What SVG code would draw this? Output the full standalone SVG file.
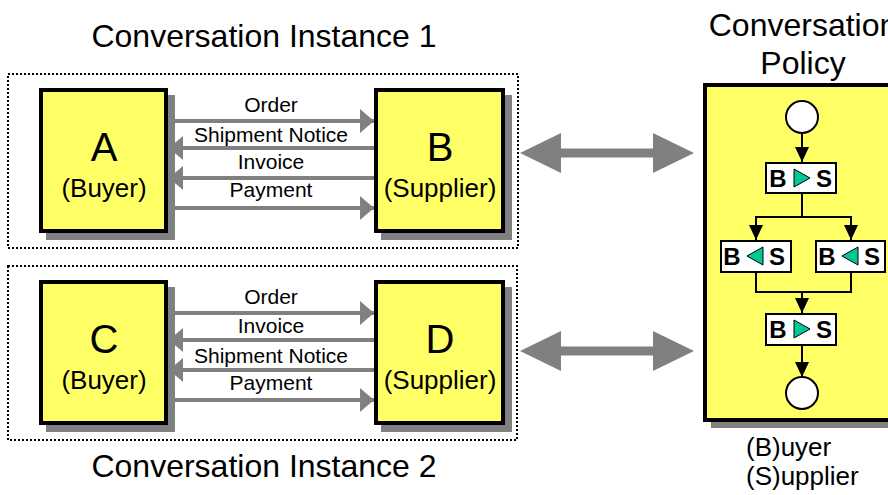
<svg xmlns="http://www.w3.org/2000/svg" width="888" height="495" viewBox="0 0 888 495">
  <defs>
    <style>
      .title { font-family: "Liberation Sans", Arial, sans-serif; font-size: 32px; fill: #000; text-anchor: middle; }
      .big { font-family: "Liberation Sans", Arial, sans-serif; font-size: 40px; fill: #000; text-anchor: middle; }
      .role { font-family: "Liberation Sans", Arial, sans-serif; font-size: 26px; fill: #000; text-anchor: middle; }
      .msg { font-family: "Liberation Sans", Arial, sans-serif; font-size: 21px; fill: #000; text-anchor: middle; }
      .legend { font-family: "Liberation Sans", Arial, sans-serif; font-size: 26px; fill: #000; }
      .step { font-family: "Liberation Sans", Arial, sans-serif; font-size: 24px; font-weight: bold; fill: #000; text-anchor: middle; }
      .frame { fill: none; stroke: #000; stroke-width: 2; stroke-dasharray: 2 2; }
      .party { fill: #ffff66; stroke: #000; stroke-width: 4; }
      .shadow { fill: #808080; }
      .msgline { stroke: #808080; stroke-width: 4; fill: none; }
      .fwd { marker-end: url(#grayHead); }
      .flow { stroke: #000; stroke-width: 2; fill: none; }
      .flowArrow { marker-end: url(#blackHead); }
      .stepbox { fill: #fff; stroke: #000; stroke-width: 2; }
      .state { fill: #fff; stroke: #000; stroke-width: 2; }
      .dir { fill: #00c896; stroke: #000; stroke-width: 1; }
      .bind { fill: #808080; }
    </style>
    <marker id="grayHead" markerUnits="userSpaceOnUse" markerWidth="15" markerHeight="24" refX="14" refY="12" orient="auto">
      <path d="M0,0 L14,12 L0,24 z" fill="#808080"/>
    </marker>
    <marker id="blackHead" markerUnits="userSpaceOnUse" markerWidth="16" markerHeight="14" refX="15" refY="7" orient="auto">
      <path d="M0,0 L15,7 L0,14 z" fill="#000"/>
    </marker>
  </defs>

  <rect width="888" height="495" fill="#fff"/>

  <!-- Instance 1 -->
  <g id="instance1">
    <text class="title" x="264" y="47">Conversation Instance 1</text>
    <rect class="frame" x="8" y="74" width="510" height="174"/>
  </g>
  <g id="nodeA">
    <rect class="shadow" x="46" y="95" width="129" height="145"/>
    <rect class="party" x="41" y="90" width="125" height="141"/>
    <text class="big" x="104" y="161">A</text>
    <text class="role" x="104" y="197">(Buyer)</text>
  </g>
  <g id="nodeB">
    <rect class="shadow" x="381" y="95" width="131" height="145"/>
    <rect class="party" x="376" y="90" width="127" height="141"/>
    <text class="big" x="440" y="161">B</text>
    <text class="role" x="440" y="197">(Supplier)</text>
  </g>

  <!-- Instance 2 -->
  <g id="instance2">
    <rect class="frame" x="8" y="266" width="509" height="174"/>
    <text class="title" x="264" y="477">Conversation Instance 2</text>
  </g>
  <g id="nodeC">
    <rect class="shadow" x="46" y="287" width="129" height="145"/>
    <rect class="party" x="41" y="282" width="125" height="141"/>
    <text class="big" x="104" y="353">C</text>
    <text class="role" x="104" y="389">(Buyer)</text>
  </g>
  <g id="nodeD">
    <rect class="shadow" x="381" y="287" width="131" height="145"/>
    <rect class="party" x="376" y="282" width="127" height="141"/>
    <text class="big" x="440" y="353">D</text>
    <text class="role" x="440" y="389">(Supplier)</text>
  </g>

  <!-- Policy -->
  <g id="policy">
    <text class="title" x="803" y="36">Conversation</text>
    <text class="title" x="803" y="74">Policy</text>
    <rect class="shadow" x="711" y="91" width="200" height="337"/>
    <rect class="party" x="705" y="85" width="200" height="335"/>
  </g>
  <g id="start">
    <circle class="state" cx="802" cy="117" r="16"/>
  </g>
  <g id="step1">
    <rect class="stepbox" x="766" y="163" width="70" height="30"/>
    <text class="step" x="778" y="187">B</text>
    <polygon class="dir" points="794,169 810,178 794,187"/>
    <text class="step" x="824" y="187">S</text>
  </g>
  <g id="step2a">
    <rect class="stepbox" x="721" y="241" width="70" height="31"/>
    <text class="step" x="732" y="265">B</text>
    <polygon class="dir" points="763,247 747,256 763,265"/>
    <text class="step" x="777" y="265">S</text>
  </g>
  <g id="step2b">
    <rect class="stepbox" x="816" y="241" width="69" height="31"/>
    <text class="step" x="827" y="265">B</text>
    <polygon class="dir" points="858,247 842,256 858,265"/>
    <text class="step" x="872" y="265">S</text>
  </g>
  <g id="step3">
    <rect class="stepbox" x="766" y="314" width="70" height="31"/>
    <text class="step" x="778" y="338">B</text>
    <polygon class="dir" points="794,320 810,329 794,338"/>
    <text class="step" x="824" y="338">S</text>
  </g>
  <g id="end">
    <circle class="state" cx="802" cy="393" r="16"/>
  </g>
  <g id="legend">
    <text class="legend" x="746" y="456">(B)uyer</text>
    <text class="legend" x="746" y="485">(S)upplier</text>
  </g>

  <!-- Connectors -->
  <g id="connectors">
    <!-- instance 1 messages -->
    <text class="msg" x="271" y="112">Order</text>
    <line class="msgline fwd" x1="168" y1="121" x2="374" y2="121"/>
    <text class="msg" x="271" y="142">Shipment Notice</text>
    <line class="msgline fwd" x1="374" y1="148" x2="169" y2="148"/>
    <text class="msg" x="271" y="169">Invoice</text>
    <line class="msgline fwd" x1="374" y1="178" x2="169" y2="178"/>
    <text class="msg" x="271" y="197">Payment</text>
    <line class="msgline fwd" x1="168" y1="208" x2="374" y2="208"/>

    <!-- instance 2 messages -->
    <text class="msg" x="271" y="304">Order</text>
    <line class="msgline fwd" x1="168" y1="313" x2="374" y2="313"/>
    <text class="msg" x="271" y="333">Invoice</text>
    <line class="msgline fwd" x1="374" y1="340" x2="169" y2="340"/>
    <text class="msg" x="271" y="363">Shipment Notice</text>
    <line class="msgline fwd" x1="374" y1="370" x2="169" y2="370"/>
    <text class="msg" x="271" y="390">Payment</text>
    <line class="msgline fwd" x1="168" y1="400" x2="374" y2="400"/>

    <!-- instance to policy bindings -->
    <polygon class="bind" points="520,153 561,133 561,148.5 653,148.5 653,133 694,153 653,173 653,157.5 561,157.5 561,173"/>
    <polygon class="bind" points="520,351 561,331 561,346.5 653,346.5 653,331 694,351 653,371 653,355.5 561,355.5 561,371"/>

    <!-- policy flow -->
    <path class="flow flowArrow" d="M802,133 V162"/>
    <path class="flow flowArrow" d="M802,193 V217 H756 V240"/>
    <path class="flow flowArrow" d="M802,217 H851 V240"/>
    <path class="flow" d="M756,272 V292 H851 V272"/>
    <path class="flow flowArrow" d="M802,292 V313"/>
    <path class="flow flowArrow" d="M802,345 V377"/>
  </g>
</svg>
